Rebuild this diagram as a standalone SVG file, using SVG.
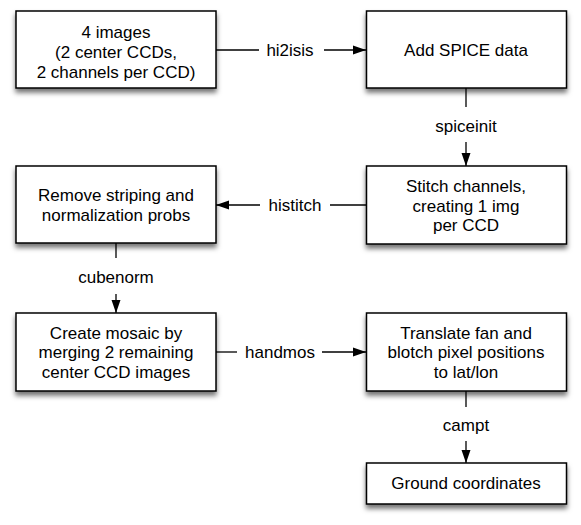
<svg xmlns="http://www.w3.org/2000/svg" width="581" height="525" viewBox="0 0 581 525">
<style>
.box{fill:#fff;stroke:#000;stroke-width:1.5;filter:url(#sh)}
text{font-family:"Liberation Sans",Arial,sans-serif;font-size:17px;fill:#000;text-anchor:middle}
.ln{stroke:#000;stroke-width:1.3;fill:none}
</style>
<defs>
<filter id="sh" x="-10%" y="-10%" width="120%" height="140%">
<feDropShadow dx="0" dy="4" stdDeviation="2.5" flood-color="#000" flood-opacity="0.55"/>
</filter>
<marker id="ah" markerUnits="userSpaceOnUse" markerWidth="13" markerHeight="10" refX="13" refY="5" orient="auto">
<path d="M0,0.5 L13,5 L0,9.5 Z" fill="#000"/>
</marker>
</defs>
<rect width="581" height="525" fill="#fff"/>
<g id="n1"><rect class="box" x="16" y="11" width="200" height="77"/>
<text x="116" y="38">4 images</text><text x="116" y="58">(2 center CCDs,</text><text x="116" y="78">2 channels per CCD)</text></g>
<g id="n2"><rect class="box" x="366.5" y="11" width="200" height="77"/>
<text x="466" y="56">Add SPICE data</text></g>
<g id="n3"><rect class="box" x="16" y="166" width="200" height="77"/>
<text x="116" y="201">Remove striping and</text><text x="116" y="221">normalization probs</text></g>
<g id="n4"><rect class="box" x="366.5" y="166" width="200" height="78"/>
<text x="466" y="192">Stitch channels,</text><text x="466" y="211.5">creating 1 img</text><text x="466" y="231">per CCD</text></g>
<g id="n5"><rect class="box" x="16" y="313" width="200" height="78"/>
<text x="116" y="338.5">Create mosaic by</text><text x="116" y="358">merging 2 remaining</text><text x="116" y="377.5">center CCD images</text></g>
<g id="n6"><rect class="box" x="366.5" y="313" width="200" height="78"/>
<text x="466" y="338.5">Translate fan and</text><text x="466" y="358">blotch pixel positions</text><text x="466" y="377.5">to lat/lon</text></g>
<g id="n7"><rect class="box" x="366.5" y="463" width="200" height="41"/>
<text x="466" y="489">Ground coordinates</text></g>
<g id="connectors">
<line class="ln" x1="216" y1="50" x2="259" y2="50"/>
<line class="ln" x1="324" y1="50" x2="366" y2="50" marker-end="url(#ah)"/>
<text x="290" y="56">hi2isis</text>
<line class="ln" x1="466" y1="88" x2="466" y2="107"/>
<line class="ln" x1="466" y1="142" x2="466" y2="166" marker-end="url(#ah)"/>
<text x="466" y="132">spiceinit</text>
<line class="ln" x1="366.5" y1="205" x2="330" y2="205"/>
<line class="ln" x1="260" y1="205" x2="216" y2="205" marker-end="url(#ah)"/>
<text x="295" y="211">histitch</text>
<line class="ln" x1="116" y1="243" x2="116" y2="258"/>
<line class="ln" x1="116" y1="294" x2="116" y2="313" marker-end="url(#ah)"/>
<text x="116" y="283">cubenorm</text>
<line class="ln" x1="216" y1="352" x2="237" y2="352"/>
<line class="ln" x1="322" y1="352" x2="366" y2="352" marker-end="url(#ah)"/>
<text x="280" y="358">handmos</text>
<line class="ln" x1="466" y1="391" x2="466" y2="407"/>
<line class="ln" x1="466" y1="441" x2="466" y2="463" marker-end="url(#ah)"/>
<text x="466" y="431">campt</text>
</g>
</svg>
